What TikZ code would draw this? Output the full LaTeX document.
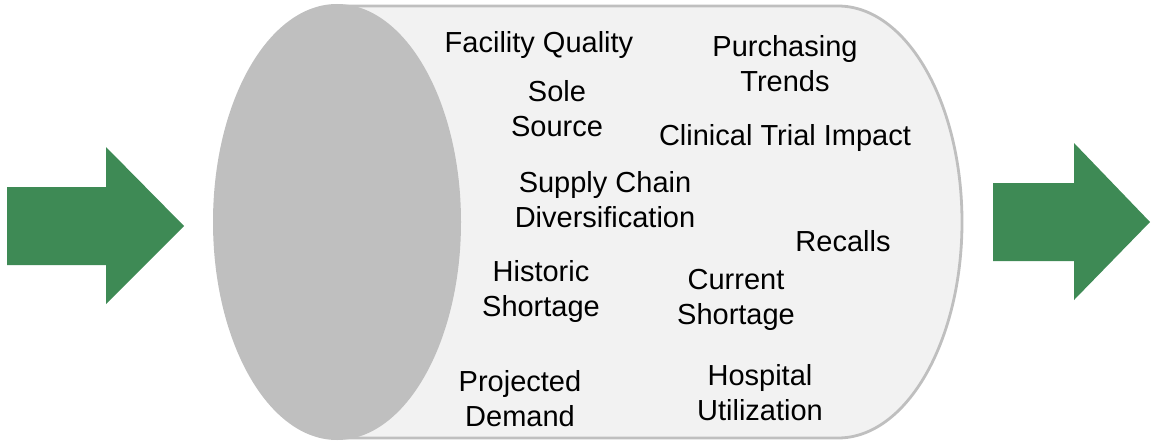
\documentclass[tikz,border=0pt]{standalone}
\usepackage{fontspec}
\setmainfont{Liberation Sans}
\definecolor{arrowgreen}{HTML}{3E8A55}
\definecolor{canfill}{HTML}{F2F2F2}
\definecolor{canedge}{HTML}{BFBFBF}
\tikzset{lbl/.style={font=\fontsize{29}{35}\selectfont,align=center,inner sep=0pt},
	bigarrow/.style={fill=arrowgreen,draw=none}}

\begin{document}
\begin{tikzpicture}[x=1pt,y=-1pt]
	  \useasboundingbox (0,0) rectangle (1153,444);
	  \path (337,222) coordinate (L)
	          (337,6) coordinate (A)
	          (838,6) coordinate (B)
	          (337,438) coordinate (D);
	      % body of the can, round end on the right
	      \draw[line width=2.8pt,draw=canedge,fill=canfill] (A)--(B)
	          arc[start angle=90,end angle=-90,x radius=124pt,y radius=216pt]--(D);
	      \fill[canedge] (L) ellipse[x radius=124pt,y radius=218pt];
	      % arrows in and out
	      \fill[bigarrow] (7,187)--(106,187)--(106,147)--(184,226)--(106,304)--(106,265)--(7,265)--cycle;
	      \fill[bigarrow] (993,183)--(1074,183)--(1074,143)--(1150,222)--(1074,300)--(1074,261)--(993,261)--cycle;
	      
	      \foreach \ten/\goc/\txt in {fac/{(539,45)}/{Facility Quality},
	          sole/{(557,109)}/{Sole\\Source},
	          pur/{(785,64)}/{Purchasing\\Trends},
	          clin/{(785,138)}/{Clinical Trial Impact},
	          sup/{(605,200)}/{Supply Chain\\Diversification},
	          rec/{(843,241)}/{Recalls},
	          his/{(541,291)}/{Historic\\Shortage},
	          cur/{(736,300)}/{Current\\Shortage},
	          proj/{(520,399)}/{Projected\\Demand},
	          hosp/{(760,393)}/{Hospital\\Utilization}}{
	           		\node[lbl] (\ten) at \goc {\txt};
	           	}
	\end{tikzpicture}
\end{document}
